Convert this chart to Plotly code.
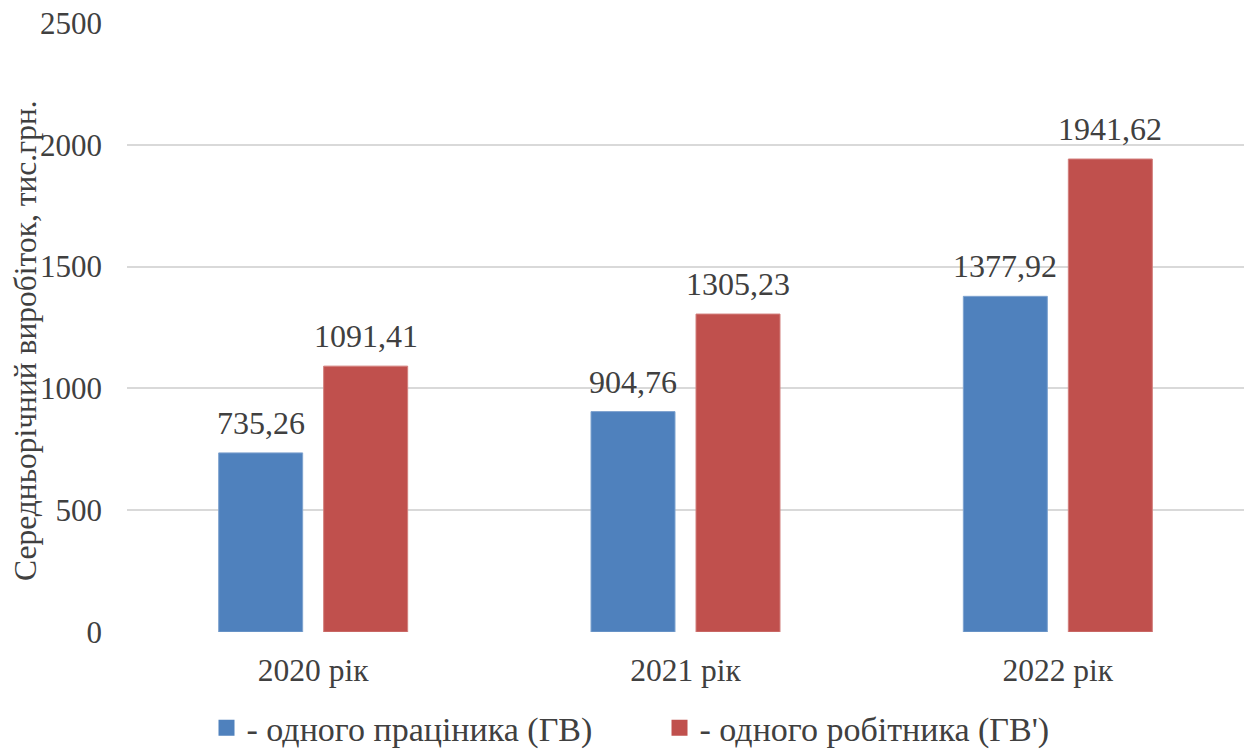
import plotly.graph_objects as go

# Середньорічний виробіток за роками, тис. грн.
years = ["2020 рік", "2021 рік", "2022 рік"]
per_employee = [735.26, 904.76, 1377.92]   # одного праціника (ГВ)
per_worker = [1091.41, 1305.23, 1941.62]   # одного робітника (ГВ')
series_names = ["- одного праціника (ГВ)", "- одного робітника (ГВ')"]
y_ticks = [0, 500, 1000, 1500, 2000, 2500]
y_title = "Середньорічний виробіток, тис.грн."

FONT = "Liberation Serif"
TEXT = "#404040"
BLUE = "#4F81BD"
RED = "#C0504D"
BAR_OFFSET_PX = 52.5  # half the distance between paired bar centres


def label(v):
    return f"{v:.2f}".replace(".", ",")


fig = go.Figure()
annotations = []
series = [
    (series_names[0], per_employee, BLUE, "#7FA3CF", -BAR_OFFSET_PX),
    (series_names[1], per_worker, RED, "#D27F7C", BAR_OFFSET_PX),
]
for name, vals, color, edge, shift in series:
    fig.add_trace(go.Bar(
        x=years,
        y=vals,
        name=name,
        showlegend=False,
        marker=dict(color=color, line=dict(color=edge, width=1)),
    ))
    # value labels above each bar
    for cat, v in zip(years, vals):
        annotations.append(dict(
            x=cat, y=v, xref="x", yref="y",
            text=label(v), showarrow=False,
            xanchor="center", yanchor="bottom",
            xshift=shift, yshift=10,
            font=dict(family=FONT, size=32, color=TEXT),
        ))

# legend entries with larger square swatches
for name, color in [(series_names[0], BLUE), (series_names[1], RED)]:
    fig.add_trace(go.Scatter(
        x=[None], y=[None], mode="markers", name=name,
        marker=dict(symbol="square", size=17, color=color),
    ))

annotations.append(dict(
    text=y_title,
    xref="paper",
    yref="paper",
    x=-0.0904,
    y=0.478,
    xanchor="center",
    yanchor="middle",
    textangle=-90,
    showarrow=False,
    font=dict(family=FONT, size=31.5, color=TEXT),
))

fig.update_layout(
    width=1246,
    height=749,
    margin=dict(l=127, r=2, t=23, b=117),
    paper_bgcolor="white",
    plot_bgcolor="white",
    barmode="group",
    bargap=0.436,
    bargroupgap=0.2,
    font=dict(family=FONT, size=30, color=TEXT),
    showlegend=True,
    legend=dict(
        orientation="h",
        xref="container",
        yref="container",
        x=0.5293,
        xanchor="center",
        y=0.028,
        yanchor="middle",
        font=dict(family=FONT, size=34, color=TEXT),
        itemwidth=30,
        entrywidth=408,
        traceorder="normal",
    ),
    xaxis=dict(
        showgrid=False,
        showline=False,
        ticks="",
        tickfont=dict(family=FONT, size=31.5, color=TEXT),
        ticklabelstandoff=16,
        automargin=False,
    ),
    yaxis=dict(
        range=[0, 2500],
        tickvals=y_ticks,
        showgrid=True,
        gridcolor="#D9D9D9",
        gridwidth=2,
        zeroline=False,
        showline=False,
        ticks="",
        tickfont=dict(family=FONT, size=31, color=TEXT),
        ticklabelstandoff=24,
        automargin=False,
    ),
    annotations=annotations,
)

fig.write_html("out.html")
